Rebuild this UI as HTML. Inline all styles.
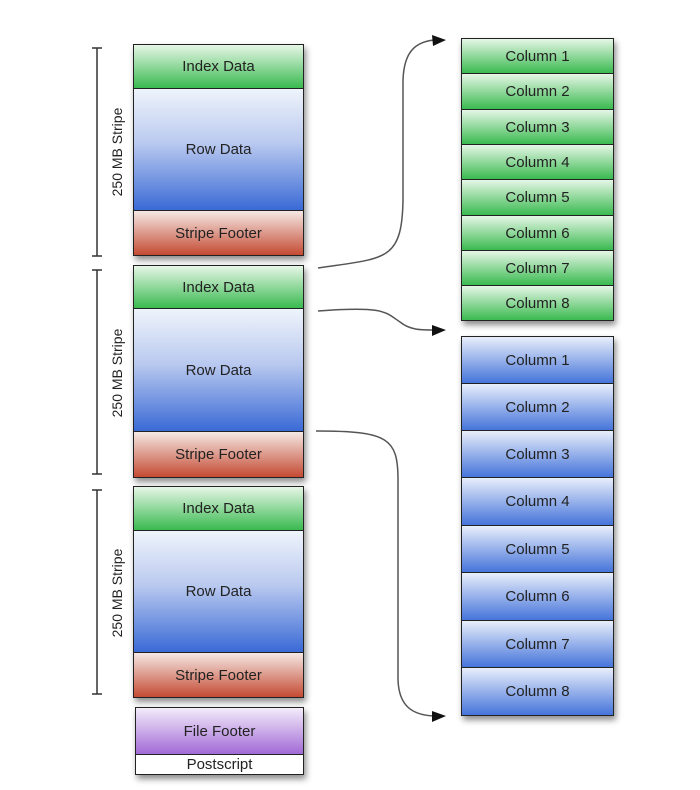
<!DOCTYPE html>
<html><head><meta charset="utf-8"><style>
body{margin:0;width:700px;height:790px;background:#fff;position:relative;overflow:hidden;font-family:"Liberation Sans",sans-serif;}
.b{position:absolute;box-sizing:border-box;display:flex;align-items:center;justify-content:center;font-size:15px;color:#222;border:1.5px solid #222;}
.g{background:linear-gradient(#e6f6e6,#3aba50);}
.r{background:linear-gradient(#eff4fb 0%,#b9c9ef 45%,#3a6ad6 100%);}
.f{background:linear-gradient(#f5e8e4,#c44a33);}
.bl{background:linear-gradient(#e8eefb,#4574da);}
.p{background:linear-gradient(#f3ecfa,#a26ad6);}
.sh{position:absolute;box-shadow:2px 4px 6px rgba(0,0,0,.45);}
.lab{position:absolute;font-size:14px;color:#222;transform:rotate(-90deg);white-space:nowrap;width:160px;text-align:center;}
</style></head><body>
<div class="sh" style="left:133px;top:44px;width:171px;height:212px"></div>
<div class="sh" style="left:133px;top:265px;width:171px;height:213px"></div>
<div class="sh" style="left:133px;top:486px;width:171px;height:212px"></div>
<div class="sh" style="left:135px;top:707px;width:169px;height:68px"></div>
<div class="sh" style="left:461px;top:38px;width:153px;height:283px"></div>
<div class="sh" style="left:461px;top:336px;width:153px;height:380px"></div>

<div class="b g" style="left:133px;top:44px;width:171px;height:45px">Index Data</div>
<div class="b r" style="left:133px;top:88px;width:171px;height:123px">Row Data</div>
<div class="b f" style="left:133px;top:210px;width:171px;height:46px">Stripe Footer</div>
<div class="b g" style="left:133px;top:265px;width:171px;height:44px">Index Data</div>
<div class="b r" style="left:133px;top:308px;width:171px;height:124px">Row Data</div>
<div class="b f" style="left:133px;top:431px;width:171px;height:47px">Stripe Footer</div>
<div class="b g" style="left:133px;top:486px;width:171px;height:45px">Index Data</div>
<div class="b r" style="left:133px;top:530px;width:171px;height:123px">Row Data</div>
<div class="b f" style="left:133px;top:652px;width:171px;height:46px">Stripe Footer</div>
<div class="b p" style="left:135px;top:707px;width:169px;height:48px">File Footer</div>
<div class="b" style="left:135px;top:754px;width:169px;height:21px;background:#fff;">Postscript</div>

<div class="b g" style="left:461px;top:38px;width:153px;height:36px">Column 1</div>
<div class="b g" style="left:461px;top:73px;width:153px;height:37px">Column 2</div>
<div class="b g" style="left:461px;top:109px;width:153px;height:36px">Column 3</div>
<div class="b g" style="left:461px;top:144px;width:153px;height:36px">Column 4</div>
<div class="b g" style="left:461px;top:179px;width:153px;height:37px">Column 5</div>
<div class="b g" style="left:461px;top:215px;width:153px;height:36px">Column 6</div>
<div class="b g" style="left:461px;top:250px;width:153px;height:36px">Column 7</div>
<div class="b g" style="left:461px;top:285px;width:153px;height:36px">Column 8</div>

<div class="b bl" style="left:461px;top:336px;width:153px;height:48px">Column 1</div>
<div class="b bl" style="left:461px;top:383px;width:153px;height:48px">Column 2</div>
<div class="b bl" style="left:461px;top:430px;width:153px;height:48px">Column 3</div>
<div class="b bl" style="left:461px;top:477px;width:153px;height:49px">Column 4</div>
<div class="b bl" style="left:461px;top:525px;width:153px;height:48px">Column 5</div>
<div class="b bl" style="left:461px;top:572px;width:153px;height:49px">Column 6</div>
<div class="b bl" style="left:461px;top:620px;width:153px;height:48px">Column 7</div>
<div class="b bl" style="left:461px;top:667px;width:153px;height:49px">Column 8</div>

<div class="lab" style="left:37px;top:144px">250 MB Stripe</div>
<div class="lab" style="left:37px;top:365px">250 MB Stripe</div>
<div class="lab" style="left:37px;top:585px">250 MB Stripe</div>

<svg width="700" height="790" style="position:absolute;left:0;top:0" fill="none" stroke="#333" stroke-width="1.5">
<path d="M97 48V256M92 48H102M92 256H102"/>
<path d="M97 270V474M92 270H102M92 474H102"/>
<path d="M97 490V694M92 490H102M92 694H102"/>
<path stroke="#555" d="M318 268C385 258 402 262 403 200L403 80C404 52 415 42 434 40"/>
<path stroke="#555" d="M318 311C385 306 385 312 400 322C410 330 420 330 434 330"/>
<path stroke="#555" d="M316 431C388 431 398 438 398 480L398 680C399 706 412 715 434 716"/>
<g fill="#111" stroke="none">
<path d="M446 40L432 35L433 46Z"/>
<path d="M446 330L432 325L432 336Z"/>
<path d="M446 716L432 711L432 722Z"/>
</g>
</svg>
</body></html>
